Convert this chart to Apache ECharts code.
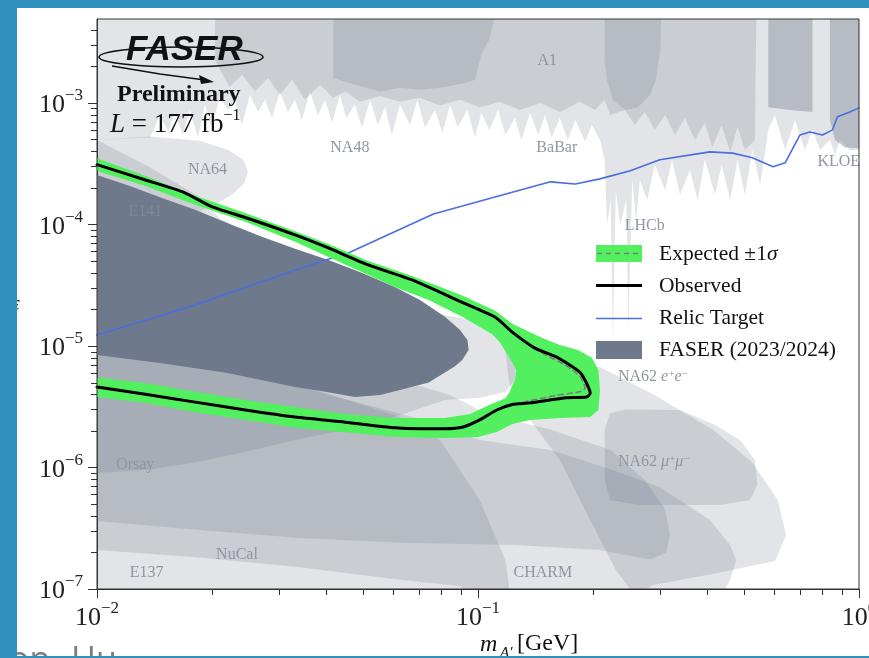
<!DOCTYPE html>
<html><head><meta charset="utf-8">
<script src="https://cdn.jsdelivr.net/npm/echarts@6/dist/echarts.min.js"></script>
<style>html,body{margin:0;padding:0;background:#fff}#c{width:869px;height:658px}</style>
</head><body><div id="c"></div>
<script>
// ---- axis ticks ----
const xMajorTicks = [0.01, 0.1, 1];
const xMinorTicks = [0.02,0.03,0.04,0.05,0.06,0.07,0.08,0.09,0.2,0.3,0.4,0.5,0.6,0.7,0.8,0.9];
const yMajorTicks = [1e-7,1e-6,1e-5,1e-4,1e-3];
const yMinorTicks = [2e-7,3e-7,4e-7,5e-7,6e-7,7e-7,8e-7,9e-7,2e-6,3e-6,4e-6,5e-6,6e-6,7e-6,8e-6,9e-6,
  2e-5,3e-5,4e-5,5e-5,6e-5,7e-5,8e-5,9e-5,2e-4,3e-4,4e-4,5e-4,6e-4,7e-4,8e-4,9e-4,2e-3,3e-3,4e-3];
const xMin = 0.01, xMax = 1, yMin = 1e-7, yMax = 4.9e-3;

// ---- FASER results [m_A' GeV, epsilon] ----
const observed = [[0.0100,3.1e-4],[0.0134,2.32e-4],[0.0168,1.85e-4],[0.0200,1.40e-4],[0.0245,1.14e-4],[0.0331,8.2e-5],[0.0405,6.4e-5],[0.0515,4.64e-5],[0.0672,3.49e-5],[0.0909,2.28e-5],[0.111,1.72e-5],[0.123,1.30e-5],[0.141,9.6e-6],[0.161,8.1e-6],[0.185,6.1e-6],[0.192,5.05e-6],[0.197,4.1e-6],[0.193,3.8e-6],[0.171,3.75e-6],[0.137,3.4e-6],[0.123,3.3e-6],[0.112,2.97e-6],[0.101,2.46e-6],[0.0914,2.15e-6],[0.0819,2.08e-6],[0.0704,2.08e-6],[0.0605,2.12e-6],[0.0448,2.36e-6],[0.0331,2.6e-6],[0.0245,2.97e-6],[0.0181,3.45e-6],[0.0134,4.0e-6],[0.0100,4.6e-6]];
const expected = [[0.0100,3.1e-4],[0.0134,2.32e-4],[0.0168,1.85e-4],[0.0200,1.40e-4],[0.0245,1.14e-4],[0.0331,8.2e-5],[0.0405,6.4e-5],[0.0515,4.64e-5],[0.0672,3.49e-5],[0.0909,2.28e-5],[0.111,1.72e-5],[0.123,1.30e-5],[0.146,8.9e-6],[0.169,6.98e-6],[0.185,5.65e-6],[0.191,4.5e-6],[0.185,4.2e-6],[0.159,3.9e-6],[0.129,3.4e-6],[0.112,2.97e-6],[0.101,2.46e-6],[0.0914,2.15e-6],[0.0819,2.08e-6],[0.0704,2.08e-6],[0.0605,2.12e-6],[0.0448,2.36e-6],[0.0331,2.6e-6],[0.0245,2.97e-6],[0.0181,3.45e-6],[0.0134,4.0e-6],[0.0100,4.6e-6]];
const sigmaBandOuter = [[0.0100,3.5e-4],[0.0134,2.5e-4],[0.0181,1.72e-4],[0.0245,1.24e-4],[0.0331,8.8e-5],[0.0405,6.9e-5],[0.0515,5.0e-5],[0.0672,3.76e-5],[0.0909,2.6e-5],[0.111,1.95e-5],[0.123,1.52e-5],[0.146,1.18e-5],[0.164,1.02e-5],[0.183,9.27e-6],[0.199,8.0e-6],[0.207,6.34e-6],[0.209,4.34e-6],[0.207,2.97e-6],[0.197,2.6e-6],[0.164,2.55e-6],[0.137,2.46e-6],[0.123,2.28e-6],[0.112,1.96e-6],[0.100,1.78e-6],[0.0819,1.75e-6],[0.0605,1.78e-6],[0.0448,1.95e-6],[0.0331,2.12e-6],[0.0245,2.46e-6],[0.0181,2.85e-6],[0.0134,3.4e-6],[0.0100,3.8e-6]];
const sigmaBandInner = [[0.0100,5.5e-6],[0.0134,4.95e-6],[0.0181,4.2e-6],[0.0245,3.59e-6],[0.0331,3.15e-6],[0.0448,2.75e-6],[0.0605,2.55e-6],[0.0819,2.55e-6],[0.0953,2.75e-6],[0.107,3.27e-6],[0.118,3.72e-6],[0.121,4.15e-6],[0.125,5.25e-6],[0.126,6.34e-6],[0.122,7.67e-6],[0.114,1.08e-5],[0.109,1.25e-5],[0.0909,1.74e-5],[0.0742,2.39e-5],[0.0605,3.05e-5],[0.0405,5.4e-5],[0.0331,7.2e-5],[0.0245,1.05e-4],[0.0181,1.45e-4],[0.0134,2.07e-4],[0.0100,2.75e-4]];
const faser2324 = [[0.0100,2.55e-4],[0.0122,2.07e-4],[0.0148,1.65e-4],[0.0181,1.32e-4],[0.0223,1.01e-4],[0.0271,7.9e-5],[0.0331,6.3e-5],[0.0405,5.1e-5],[0.0495,4.0e-5],[0.0605,3.06e-5],[0.0704,2.39e-5],[0.0819,1.74e-5],[0.0897,1.35e-5],[0.0938,1.12e-5],[0.0945,9.27e-6],[0.0909,7.67e-6],[0.0870,6.8e-6],[0.0795,5.7e-6],[0.0742,5.0e-6],[0.0624,4.34e-6],[0.0553,3.95e-6],[0.0475,3.8e-6],[0.0397,4.2e-6],[0.0331,4.6e-6],[0.0220,6.0e-6],[0.0148,7.2e-6],[0.0100,8.43e-6]];
const relicTarget = [[0.0100,1.23e-5],[0.0181,2.17e-5],[0.0331,4.22e-5],[0.0461,5.9e-5],[0.0764,1.22e-4],[0.112,1.7e-4],[0.155,2.24e-4],[0.180,2.15e-4],[0.209,2.37e-4],[0.251,2.76e-4],[0.300,3.4e-4],[0.406,3.95e-4],[0.466,3.86e-4],[0.525,3.53e-4],[0.595,2.98e-4],[0.640,3.21e-4],[0.700,5.45e-4],[0.743,5.77e-4],[0.802,5.45e-4],[0.852,6.0e-4],[0.878,7.7e-4],[0.946,8.4e-4],[1.0,9.1e-4]];

// ---- existing exclusions [m_A' GeV, epsilon] ----
const topLight = [[0.01,6e-3],[1.05,6e-3],[1.05,4.1e-4],[0.946,4.1e-4],[0.891,4.96e-4],[0.865,3.73e-4],[0.839,4.96e-4],[0.790,4.1e-4],[0.755,6.0e-4],[0.721,4.1e-4],[0.679,7.24e-4],[0.640,4.1e-4],[0.602,7.96e-4],[0.578,6.0e-4],[0.550,2.11e-4],[0.525,4.1e-4],[0.502,1.75e-4],[0.480,3.4e-4],[0.459,1.59e-4],[0.436,3.09e-4],[0.419,1.75e-4],[0.394,3.4e-4],[0.377,1.59e-4],[0.360,2.81e-4],[0.339,1.75e-4],[0.323,3.4e-4],[0.310,1.92e-4],[0.291,3.09e-4],[0.278,1.59e-4],[0.266,2.32e-4],[0.260,1.09e-4],[0.254,2.32e-4],[0.248,1.35e-5],[0.245,1.59e-4],[0.236,9.9e-5],[0.230,1.92e-4],[0.226,1.12e-5],[0.223,1.59e-4],[0.218,9.9e-5],[0.215,3.4e-4],[0.209,4.96e-4],[0.199,6.59e-4],[0.191,4.8e-4],[0.180,7.24e-4],[0.172,4.96e-4],[0.164,7.5e-4],[0.156,5.2e-4],[0.150,7.96e-4],[0.144,5.45e-4],[0.137,8.3e-4],[0.130,4.96e-4],[0.125,7.5e-4],[0.118,5.45e-4],[0.113,8.75e-4],[0.107,6.0e-4],[0.102,8.3e-4],[0.0982,5.2e-4],[0.0938,8.75e-4],[0.0884,6.3e-4],[0.0845,9.63e-4],[0.0807,5.7e-4],[0.0771,8.75e-4],[0.0726,6.3e-4],[0.0693,1.06e-3],[0.0663,6.59e-4],[0.0624,9.63e-4],[0.0594,5.45e-4],[0.0570,9.2e-4],[0.0546,6.59e-4],[0.0521,1.06e-3],[0.0496,6.3e-4],[0.0475,9.63e-4],[0.0451,7.5e-4],[0.0434,1.16e-3],[0.0414,6.9e-4],[0.0397,1.06e-3],[0.0380,7.96e-4],[0.0362,1.24e-3],[0.0345,7.24e-4],[0.0331,1.06e-3],[0.0317,8.4e-4],[0.0302,1.24e-3],[0.0288,7.5e-4],[0.0276,1.06e-3],[0.0265,8.4e-4],[0.0252,1.16e-3],[0.0240,6.59e-4],[0.0230,1.06e-3],[0.0221,8.75e-4],[0.0210,1.1e-3],[0.0200,6.3e-4],[0.0192,9.63e-4],[0.0184,5.2e-4],[0.0175,8.75e-4],[0.0168,5.45e-4],[0.0160,8.4e-4],[0.0154,5.8e-4],[0.0146,7.96e-4],[0.0138,5.2e-4],[0.0100,4.96e-4]];
const topMid = [[0.0204,6e-3],[0.538,6e-3],[0.533,4.96e-4],[0.502,4.1e-4],[0.480,6.3e-4],[0.459,3.95e-4],[0.436,6.59e-4],[0.412,4.3e-4],[0.394,6.9e-4],[0.371,4.96e-4],[0.349,7.5e-4],[0.329,5.45e-4],[0.310,7.96e-4],[0.291,6.0e-4],[0.274,8.4e-4],[0.258,6.59e-4],[0.243,8.75e-4],[0.222,7.96e-4],[0.215,1.06e-3],[0.203,8.75e-4],[0.185,1.02e-3],[0.164,8.4e-4],[0.146,1.0e-3],[0.129,8.75e-4],[0.114,1.02e-3],[0.101,9.2e-4],[0.0897,1.06e-3],[0.0795,9.5e-4],[0.0704,1.1e-3],[0.0624,1.02e-3],[0.0553,1.14e-3],[0.0490,1.02e-3],[0.0448,1.24e-3],[0.0417,1.1e-3],[0.0385,1.41e-3],[0.0351,1.06e-3],[0.0325,1.55e-3],[0.0302,1.16e-3],[0.0281,1.6e-3],[0.0260,1.24e-3],[0.0240,1.7e-3],[0.0223,1.35e-3],[0.0210,1.87e-3],[0.0204,2.26e-3]];
const na48 = [[0.0417,6e-3],[0.112,6e-3],[0.107,3.3e-3],[0.102,2.5e-3],[0.0982,1.55e-3],[0.0920,1.45e-3],[0.0795,1.33e-3],[0.0704,1.28e-3],[0.0624,1.33e-3],[0.0553,1.24e-3],[0.0490,1.38e-3],[0.0448,1.49e-3],[0.0417,1.6e-3]];
const a1Deep = [[0.215,6e-3],[0.303,6e-3],[0.301,2.73e-3],[0.293,1.55e-3],[0.283,1.16e-3],[0.263,9.2e-4],[0.243,8.75e-4],[0.226,1.06e-3],[0.218,1.55e-3],[0.215,2.26e-3]];
const kloeA = [[0.578,6e-3],[0.755,6e-3],[0.755,8.4e-4],[0.659,8.75e-4],[0.578,9.2e-4]];
const kloeB = [[0.839,6e-3],[1.05,6e-3],[1.05,4.2e-4],[0.918,4.3e-4],[0.865,4.96e-4],[0.839,7.24e-4]];
const na64 = [[0.0100,4.96e-4],[0.0138,5.3e-4],[0.0186,4.87e-4],[0.0221,4.1e-4],[0.0242,3.4e-4],[0.0249,2.7e-4],[0.0243,2.16e-4],[0.0226,1.75e-4],[0.0204,1.45e-4],[0.0186,1.27e-4],[0.0138,1.75e-4],[0.0100,2.32e-4]];
const orsay = [[0.0100,4.96e-4],[0.0138,2.94e-4],[0.0186,1.68e-4],[0.0210,1.12e-4],[0.0268,7.45e-5],[0.0341,5.5e-5],[0.0461,4.4e-5],[0.0624,2.8e-5],[0.0748,1.88e-5],[0.0953,1.64e-5],[0.111,1.35e-5],[0.121,1.02e-5],[0.126,7.4e-6],[0.125,5.25e-6],[0.118,4.2e-6],[0.101,3.75e-6],[0.0819,3.59e-6],[0.0605,2.6e-6],[0.0448,2.04e-6],[0.0331,1.68e-6],[0.0245,1.35e-6],[0.0181,1.1e-6],[0.0134,9.53e-7],[0.0100,9.0e-7]];
const e137 = [[0.0100,1.2e-5],[0.0341,4.8e-6],[0.0624,2.6e-6],[0.0795,1.68e-6],[0.101,5.4e-7],[0.118,1.73e-7],[0.122,8e-8],[0.0100,8e-8]];
const nucal = [[0.0100,2.39e-5],[0.0341,9.27e-6],[0.0845,3.95e-6],[0.107,2.7e-6],[0.155,2.05e-6],[0.222,1.4e-6],[0.274,7.9e-7],[0.310,4.5e-7],[0.319,2.8e-7],[0.312,2.0e-7],[0.283,1.75e-7],[0.209,2.09e-7],[0.125,2.3e-7],[0.0624,2.4e-7],[0.0341,2.63e-7],[0.0186,3.06e-7],[0.0100,3.62e-7]];
const charm = [[0.0100,1.35e-5],[0.0341,4.6e-6],[0.0704,2.5e-6],[0.101,1.68e-6],[0.155,1.39e-6],[0.215,1.0e-6],[0.300,6.9e-7],[0.406,3.7e-7],[0.459,2.3e-7],[0.476,1.73e-7],[0.459,1.19e-7],[0.436,8.9e-8],[0.0953,8.9e-8],[0.0897,1.06e-7],[0.0624,1.19e-7],[0.0341,1.51e-7],[0.0186,1.82e-7],[0.0100,2.09e-7]];
const na62ee = [[0.118,9.0e-6],[0.164,7.67e-6],[0.209,6.7e-6],[0.288,4.0e-6],[0.414,2.04e-6],[0.525,1.1e-6],[0.612,5.4e-7],[0.644,2.78e-7],[0.602,1.7e-7],[0.432,1.37e-7],[0.288,1.08e-7],[0.258,8.9e-8],[0.230,1.43e-7],[0.197,3.7e-7],[0.164,1.15e-6],[0.137,2.46e-6],[0.121,4.8e-6]];
const na62mm = [[0.215,2.04e-6],[0.222,2.8e-6],[0.243,3.0e-6],[0.339,2.97e-6],[0.419,2.24e-6],[0.487,1.68e-6],[0.533,1.15e-6],[0.541,7.2e-7],[0.518,5.4e-7],[0.432,4.9e-7],[0.266,4.9e-7],[0.222,5.4e-7],[0.215,7.9e-7]];

// ---- region labels ----
const regionLabelNames = ['A1','NA48','BaBar','LHCb','KLOE','NA64','E141','Orsay','NuCal','E137','CHARM'];
const regionLabelPos = [[0.152,2.2e-3],[0.0461,4.3e-4],[0.161,4.3e-4],[0.274,9.7e-5],[0.885,3.3e-4],[0.0195,2.81e-4],[0.0134,1.27e-4],[0.0126,1.05e-6],[0.0233,1.91e-7],[0.0135,1.36e-7],[0.148,1.36e-7]];
const na62LabelPos = [[0.233,5.6e-6],[0.233,1.11e-6]];

const SERIF = '"Liberation Serif", "DejaVu Serif", serif';
const LABEL_GRAY = '#8f96a2';
const fillFor = w => 'rgba(100,110,128,' + (1 - Math.pow(0.81, w)).toFixed(3) + ')';

function polySeries(pts, fill, z) {
  return {
    type: 'custom', data: pts, z: z, silent: true, animation: false, clip: true,
    encode: { x: 0, y: 1 },
    renderItem(params, api) {
      if (params.dataIndex !== 0) return null;
      const cs = params.coordSys;
      return {
        type: 'polygon', shape: { points: pts.map(p => api.coord(p)) }, style: { fill: fill },
        clipPath: { type: 'rect', shape: { x: cs.x, y: cs.y, width: cs.width, height: cs.height } }
      };
    }
  };
}
function tickSeries(vals, axis, len) {
  return {
    type: 'custom', silent: true, animation: false, clip: false, z: 20,
    data: vals.map(v => axis === 'x' ? [v, yMin] : [xMin, v]),
    encode: { x: 0, y: 1 },
    renderItem(params, api) {
      const cs = params.coordSys;
      const p = api.coord([api.value(0), api.value(1)]);
      if (axis === 'x') {
        const x = Math.round(p[0]) + 0.5;
        return { type: 'line', shape: { x1: x, y1: cs.y + cs.height, x2: x, y2: cs.y + cs.height + len }, style: { stroke: '#333', lineWidth: 1 } };
      }
      const y = Math.round(p[1]) + 0.5;
      return { type: 'line', shape: { x1: cs.x, y1: y, x2: cs.x - len, y2: y }, style: { stroke: '#333', lineWidth: 1 } };
    }
  };
}
function lineSeries(pts, color, width, type, z, smooth) {
  return { type: 'line', data: pts, showSymbol: false, symbol: 'none', silent: true, animation: false, z: z, smooth: smooth || false,
    lineStyle: { color: color, width: width, type: type || 'solid', cap: 'round', join: 'round' } };
}
function labelSeries() {
  return {
    type: 'custom', data: regionLabelPos, silent: true, animation: false, z: 8, encode: { x: 0, y: 1 },
    renderItem(params, api) {
      const p = api.coord([api.value(0), api.value(1)]);
      const name = regionLabelNames[params.dataIndex];
      return { type: 'text', x: p[0], y: p[1], style: { text: name, fill: name === 'E141' ? '#7d8899' : LABEL_GRAY, fontFamily: SERIF, fontSize: 16, align: 'center', verticalAlign: 'middle' } };
    }
  };
}
function na62Labels() {
  const rich = { r: { fontFamily: SERIF, fontSize: 16, fill: LABEL_GRAY }, i: { fontFamily: SERIF, fontStyle: 'italic', fontSize: 16, fill: LABEL_GRAY },
    s: { fontFamily: SERIF, fontSize: 11, fill: LABEL_GRAY, verticalAlign: 'top', lineHeight: 11 } };
  const texts = ['{r|NA62 }{i|e}{s|+}{i|e}{s|−}', '{r|NA62 }{i|μ}{s|+}{i|μ}{s|−}'];
  return {
    type: 'custom', data: na62LabelPos, silent: true, animation: false, z: 8, encode: { x: 0, y: 1 },
    renderItem(params, api) {
      const p = api.coord([api.value(0), api.value(1)]);
      return { type: 'text', x: p[0], y: p[1], style: { text: texts[params.dataIndex], rich: rich, fill: LABEL_GRAY, align: 'left', verticalAlign: 'middle' } };
    }
  };
}
function powLabel(v) {
  const l = Math.log10(v), e = Math.round(l);
  if (Math.abs(l - e) > 1e-6) return '';
  return '{b|10}{s|' + (e < 0 ? '−' : '') + Math.abs(e) + '}';
}
const tickRich = { b: { fontFamily: SERIF, fontSize: 26, color: '#222', lineHeight: 31, verticalAlign: 'bottom' },
  s: { fontFamily: SERIF, fontSize: 17, color: '#222', lineHeight: 17, verticalAlign: 'top' } };

const bandPolygon = sigmaBandOuter.concat(sigmaBandInner);
const series = [
  polySeries(topLight, fillFor(1), 1),
  polySeries(topMid, fillFor(1), 1),
  polySeries(na48, fillFor(1), 1),
  polySeries(a1Deep, fillFor(1), 1),
  polySeries(kloeA, fillFor(2), 1),
  polySeries(kloeB, fillFor(2), 1),
  polySeries(na64, fillFor(1), 1),
  polySeries(orsay, fillFor(1), 1),
  polySeries(e137, fillFor(1), 1),
  polySeries(nucal, fillFor(1), 1),
  polySeries(charm, fillFor(1), 1),
  polySeries(na62ee, fillFor(1), 1),
  polySeries(na62mm, fillFor(1), 1),
  labelSeries(),
  na62Labels(),
  polySeries(faser2324, '#6e798b', 3),
  lineSeries(relicTarget, '#4a6ee0', 1.6, 'solid', 4),
  polySeries(bandPolygon, '#52f05f', 5),
  lineSeries(expected, '#7a7a7a', 1.6, [5, 4], 6, 0.2),
  lineSeries(observed, '#000000', 3, 'solid', 7, 0.2),
  tickSeries(xMajorTicks, 'x', 9), tickSeries(xMinorTicks, 'x', 6),
  tickSeries(yMajorTicks, 'y', 9), tickSeries(yMinorTicks, 'y', 6)
];

const T = (x, y, text, extra) => ({ type: 'text', x: x, y: y, z: 50, style: Object.assign({ text: text, fill: '#111', fontFamily: SERIF, fontSize: 21.5, align: 'left', verticalAlign: 'middle' }, extra || {}) });
const graphic = [
  // FASER logo
  { type: 'ellipse', z: 50, shape: { cx: 181, cy: 57, rx: 82, ry: 10 }, style: { fill: 'none', stroke: '#111', lineWidth: 1.6 } },
  T(126, 50, 'FASER', { fontFamily: '"Liberation Sans", Arial, sans-serif', fontWeight: 'bold', fontStyle: 'italic', fontSize: 35, fill: '#111' }),
  { type: 'polyline', z: 50, shape: { points: [[112, 66], [160, 74], [205, 80]] }, style: { stroke: '#111', lineWidth: 1.6, fill: 'none' } },
  { type: 'polygon', z: 50, shape: { points: [[214, 82], [199, 75], [201, 84]] }, style: { fill: '#111' } },
  T(117, 95, 'Preliminary', { fontWeight: 'bold', fontSize: 24 }),
  T(110, 123, '{i|L}{r| = 177 fb}{s|−1}', { rich: { i: { fontFamily: SERIF, fontStyle: 'italic', fontSize: 27, fill: '#111', lineHeight: 30, verticalAlign: 'bottom' }, r: { fontFamily: SERIF, fontSize: 27, fill: '#111', lineHeight: 30, verticalAlign: 'bottom' }, s: { fontFamily: SERIF, fontSize: 16, fill: '#111', lineHeight: 16, verticalAlign: 'top' } } }),
  // legend
  { type: 'rect', z: 50, shape: { x: 596, y: 245, width: 46, height: 17 }, style: { fill: '#52f05f' } },
  { type: 'line', z: 51, shape: { x1: 597, y1: 253.5, x2: 641, y2: 253.5 }, style: { stroke: '#7a7a7a', lineWidth: 1.6, lineDash: [5, 4] } },
  { type: 'line', z: 50, shape: { x1: 596, y1: 285.5, x2: 642, y2: 285.5 }, style: { stroke: '#000', lineWidth: 3 } },
  { type: 'line', z: 50, shape: { x1: 596, y1: 318.5, x2: 642, y2: 318.5 }, style: { stroke: '#4a6ee0', lineWidth: 1.6 } },
  { type: 'rect', z: 50, shape: { x: 596, y: 341, width: 46, height: 18 }, style: { fill: '#6e798b' } },
  T(659, 254, '{r|Expected ±1}{i|σ}', { rich: { r: { fontFamily: SERIF, fontSize: 21.5, fill: '#111' }, i: { fontFamily: SERIF, fontStyle: 'italic', fontSize: 21.5, fill: '#111' } } }),
  T(659, 286, 'Observed'),
  T(659, 318, 'Relic Target'),
  T(659, 350, 'FASER (2023/2024)'),
  // axis names
  T(480, 645, 'm', { fontStyle: 'italic', fontSize: 24 }),
  T(500, 653, 'A′', { fontStyle: 'italic', fontSize: 15 }),
  T(517, 644, '[GeV]', { fontSize: 24 }),
  T(11, 304, 'ε', { fontStyle: 'italic', fontSize: 22 }),
  // slide frame
  { type: 'text', x: 9, y: 644, z: 60, style: { text: 'on', fill: '#7d7d7d', fontFamily: '"Open Sans", sans-serif', fontSize: 34, verticalAlign: 'top' } },
  { type: 'text', x: 71, y: 644, z: 60, style: { text: 'Hu', fill: '#7d7d7d', fontFamily: '"Open Sans", sans-serif', fontSize: 34, verticalAlign: 'top' } },
  { type: 'rect', z: 100, shape: { x: 0, y: 0, width: 869, height: 8 }, style: { fill: '#3290bf' } },
  { type: 'rect', z: 100, shape: { x: 0, y: 0, width: 17, height: 658 }, style: { fill: '#3290bf' } },
  { type: 'rect', z: 100, shape: { x: 0, y: 656, width: 869, height: 2 }, style: { fill: '#3290bf' } }
];

const chart = echarts.init(document.getElementById('c'), null, { renderer: 'canvas' });
chart.setOption({
  animation: false,
  backgroundColor: '#ffffff',
  grid: { left: 97, right: 10, top: 19, bottom: 69, containLabel: false, outerBoundsMode: 'none', show: true, borderColor: '#333', borderWidth: 1, backgroundColor: 'transparent', z: 30 },
  xAxis: { type: 'log', logBase: 10, min: xMin, max: xMax, axisLine: { show: true, lineStyle: { color: '#333' } }, axisTick: { show: false }, splitLine: { show: false },
    axisLabel: { formatter: powLabel, rich: tickRich, margin: 11, hideOverlap: false } },
  yAxis: { type: 'log', logBase: 10, min: yMin, max: yMax, axisLine: { show: true, lineStyle: { color: '#333' } }, axisTick: { show: false }, splitLine: { show: false },
    axisLabel: { formatter: powLabel, rich: tickRich, margin: 14 } },
  series: series,
  graphic: graphic
});
</script></body></html>
